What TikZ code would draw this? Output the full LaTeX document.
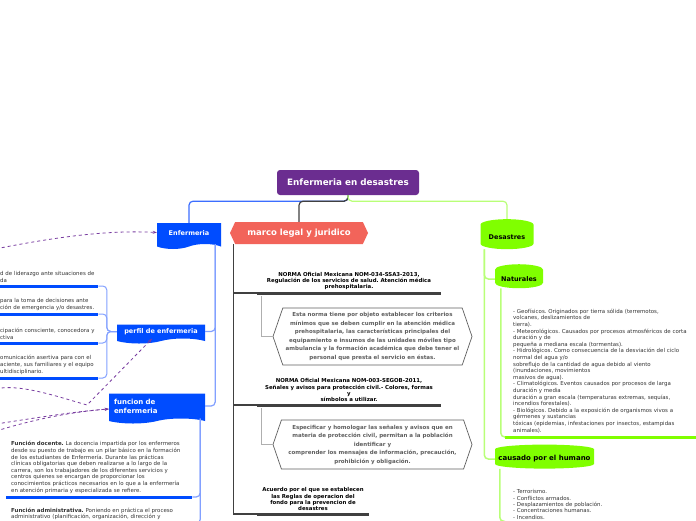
\documentclass[tikz,border=0pt]{standalone}
\usepackage{fontspec}
\setmainfont{DejaVu Sans}
\usetikzlibrary{shapes.geometric,shapes.symbols,arrows.meta,positioning,calc}
\definecolor{mapviolet}{RGB}{107,45,144}
\definecolor{enfblue}{RGB}{0,76,255}
\definecolor{enftop}{RGB}{60,110,255}
\definecolor{enfline}{RGB}{130,160,255}
\definecolor{legalred}{RGB}{242,100,90}
\definecolor{legaldark}{RGB}{64,64,64}
\definecolor{legalgrey}{RGB}{95,95,95}
\definecolor{legalthin}{RGB}{175,175,175}
\definecolor{desgreen}{RGB}{128,255,0}
\definecolor{desline}{RGB}{185,255,120}
\definecolor{reldash}{RGB}{120,60,160}
\definecolor{bodygrey}{RGB}{51,51,51}
\frenchspacing

\begin{document}
\begin{tikzpicture}[x=1pt,y=-1pt,
  rootbox/.style={fill=mapviolet, rounded corners=3pt, text=white, inner sep=0pt, minimum width=142pt, minimum height=25pt, font=\bfseries\fontsize{8.8}{10}\selectfont},
  enfbox/.style={tape, tape bend top=none, tape bend height=5pt, fill=enfblue, text=white, inner sep=0pt, font=\bfseries\fontsize{6.5}{8.4}\selectfont},
  legalbox/.style={signal, signal to=west and east, signal pointer angle=130, fill=legalred, text=white, inner sep=0pt, minimum width=138pt, minimum height=22pt, font=\bfseries\fontsize{8.5}{10}\selectfont},
  desbox/.style={cylinder, shape border rotate=90, aspect=0.3, fill=desgreen, inner sep=0pt, font=\bfseries\fontsize{6.5}{8}\selectfont},
  normtext/.style={text=black, align=center, inner xsep=0pt, inner ysep=3pt, font=\bfseries\fontsize{5.4}{6.3}\selectfont},
  hexnote/.style={signal, signal to=west and east, signal pointer angle=142, draw=legalgrey, line width=0.7pt, text=legalgrey, align=center, inner sep=0pt, minimum width=199pt, font=\bfseries\fontsize{5.5}{8.5}\selectfont},
  bodytext/.style={text=bodygrey, align=left, inner xsep=0pt, inner ysep=3.5pt, font=\fontsize{5.45}{6.6}\selectfont},
  blueunder/.style={draw=enfblue, line width=3pt},
  greyunder/.style={draw=legaldark, line width=3pt},
  greenunder/.style={draw=desgreen, line width=3pt},
  rel/.style={draw=reldash, dashed, line width=0.8pt, -{Stealth[length=4pt,width=3pt]}}
]
\useasboundingbox (0,0) rectangle (696,520);
\fill[white] (0,0) rectangle (696,520);
\clip (0,0) rectangle (696,520);

% central topic
\node[rootbox] (root) at (348,182.5) {Enfermeria en desastres};

% main branches
\node[enfbox, minimum width=64pt, minimum height=26pt] (enf) at (189,233.5) {Enfermeria};
\node[legalbox] (marco) at (299,233) {marco legal y juridico};
\node[desbox, minimum width=53pt, minimum height=30pt] (des) at (507,237) {Desastres};

\draw[enftop, line width=1.2pt, rounded corners=4pt] (root.south) -- ++(0,6) -| (enf.north);
\draw[legaldark, line width=1.2pt, rounded corners=4pt] (root.south) -- ++(0,6) -| (marco.north);
\draw[desline, line width=1.2pt, rounded corners=4pt] (root.south) -- ++(0,6) -| (des.north);

% Enfermeria
\node[enfbox, minimum width=88pt, minimum height=19pt] (perfil) at (161,331.5) {perfil de enfermeria};
\node[enfbox, minimum width=96pt, minimum height=30pt, text width=86pt, align=left, font=\bfseries\fontsize{7}{9}\selectfont] (funcion) at (157,406) {funcion de\\enfermeria};
\draw[enfline, line width=1.2pt, rounded corners=4pt] ([xshift=-6pt]enf.south east) |- (perfil.east);
\draw[enfline, line width=1.2pt, rounded corners=4pt] ([xshift=-6pt]enf.south east) |- (funcion.east);

\node[bodytext, text width=98pt, anchor=south west] (p1) at (0,286) {d de liderazgo ante situaciones de\\da};
\node[bodytext, text width=98pt, anchor=south west] (p2) at (0,314) {para la toma de decisiones ante\\ción de emergencia y/o desastres.};
\node[bodytext, text width=98pt, anchor=south west] (p3) at (0,343) {cipación consciente, conocedora y\\ctiva};
\node[bodytext, text width=98pt, anchor=south west] (p4) at (0,378) {omunicación asertiva para con el\\aciente, sus familiares y el equipo\\ultidisciplinario.};
\foreach \p in {p1,p2,p3,p4} {
  \draw[blueunder] (\p.south west) -- (\p.south east);
  \draw[enfline, line width=1pt, rounded corners=4pt] (perfil.west) -- ++(-10,0) |- (\p.south east);
}

\node[bodytext, inner xsep=5pt, text width=176pt, anchor=south west] (f1) at (6,497) {\textbf{Función docente.} La docencia impartida por los enfermeros\\desde su puesto de trabajo es un pilar básico en la formación\\de los estudiantes de Enfermería. Durante las prácticas\\clínicas obligatorias que deben realizarse a lo largo de la\\carrera, son los trabajadores de los diferentes servicios y\\centros quienes se encargan de proporcionar los\\conocimientos prácticos necesarios en lo que a la enfermería\\en atención primaria y especializada se refiere.};
\node[bodytext, inner xsep=5pt, text width=176pt, anchor=north west] (f2) at (6,504) {\textbf{Función administrativa.} Poniendo en práctica el proceso\\administrativo (planificación, organización, dirección y};
\draw[blueunder] (f1.south west) -- (f1.south east);
\draw[blueunder] (f2.south west) -- (f2.south east);
\draw[enfline, line width=1.2pt, rounded corners=4pt] ([xshift=-5pt]funcion.south east) |- (f1.south east);
\draw[enfline, line width=1.2pt, rounded corners=4pt] ([xshift=-5pt]funcion.south east) |- (f2.south east);

% marco legal
\coordinate (trunk) at ($(marco.west |- marco.south)+(4,0)$);
\node[normtext, text width=184pt, anchor=south] (n1) at (349,293) {NORMA Oficial Mexicana NOM-034-SSA3-2013,\\Regulación de los servicios de salud. Atención médica\\prehospitalaria.};
\node[normtext, text width=184pt, anchor=south] (n2) at (349,405) {NORMA Oficial Mexicana NOM-003-SEGOB-2011,\\Señales y avisos para protección civil.- Colores, formas\\y\\símbolos a utilizar.};
\node[normtext, text width=112pt, anchor=south] (n3) at (313,514) {Acuerdo por el que se establecen\\las Reglas de operacion del\\fondo para la prevencion de\\desastres};
\node[hexnote, minimum height=57pt] (h1) at (372.5,336.5) {Esta norma tiene por objeto establecer los criterios\\mínimos que se deben cumplir en la atención médica\\prehospitalaria, las características principales del\\equipamiento e insumos de las unidades móviles tipo\\ambulancia y la formación académica que debe tener el\\personal que presta el servicio en éstas.};
\node[hexnote, minimum height=49pt] (h2) at (372.5,444.5) {Especificar y homologar las señales y avisos que en\\materia de protección civil, permitan a la población\\identificar y\\comprender los mensajes de información, precaución,\\prohibición y obligación.};
\foreach \n in {n1,n2,n3} {
  \draw[greyunder] (\n.south west) -- (\n.south east);
  \draw[legaldark, line width=1.2pt] (trunk) |- (\n.south west);
}
\draw[legalthin, line width=1pt] ($(n1.south west)+(5,3)$) |- (h1.west);
\draw[legalthin, line width=1pt] ($(n2.south west)+(5,3)$) |- (h2.west);

% Desastres
\node[desbox, minimum width=48pt, minimum height=24pt] (nat) at (519,279) {Naturales};
\node[desbox, aspect=0.1, minimum width=99pt, minimum height=24pt, font=\bfseries\fontsize{7}{8}\selectfont] (hum) at (544.5,459) {causado por el humano};
\draw[desline, line width=1.5pt, rounded corners=4pt] ($(des.west |- des.south)+(4,0)$) |- (nat.west);
\draw[desline, line width=1.5pt, rounded corners=4pt] ($(des.west |- des.south)+(4,0)$) |- (hum.west);

\node[bodytext, inner xsep=8pt, inner ysep=4pt, text width=176pt, anchor=south west] (nt) at (505,437) {- Geofísicos. Originados por tierra sólida (terremotos,\\volcanes, deslizamientos de\\tierra).\\- Meteorológicos. Causados por procesos atmosféricos de corta\\duración y de\\pequeña a mediana escala (tormentas).\\- Hidrológicos. Como consecuencia de la desviación del ciclo\\normal del agua y/o\\sobreflujo de la cantidad de agua debido al viento\\(inundaciones, movimientos\\masivos de agua).\\- Climatológicos. Eventos causados por procesos de larga\\duración y media\\duración a gran escala (temperaturas extremas, sequías,\\incendios forestales).\\- Biológicos. Debido a la exposición de organismos vivos a\\gérmenes y sustancias\\tóxicas (epidemias, infestaciones por insectos, estampidas\\animales).};
\draw[greenunder] (nt.south west) -- (nt.south east);
\draw[desline, line width=1.5pt, rounded corners=4pt] ($(nat.west |- nat.south)+(6,0)$) |- (nt.south west);

\node[bodytext, inner xsep=8pt, inner ysep=2pt, text width=176pt, anchor=north west, font=\fontsize{5.45}{6.3}\selectfont] (ht) at (505,487.5) {- Terrorismo.\\- Conflictos armados.\\- Desplazamientos de población.\\- Concentraciones humanas.\\- Incendios.};
\draw[desline, line width=1.5pt, rounded corners=4pt] ($(hum.west |- hum.south)+(5,0)$) |- (ht.south west);

% relations
\coordinate (rel a) at (-10,250);
\coordinate (rel b) at (-15,394);
\coordinate (rel c) at (-10,425);
\coordinate (rel d) at (-10,433);
\draw[rel] (rel a) .. controls (60,236) and (110,230) .. ([yshift=1pt]enf.west);
\draw[rel] (rel b) .. controls (5,378) and (55,396) .. (87,405) -- ([xshift=-9pt]perfil.south);
\draw[rel] (rel c) .. controls (40,417) and (80,411) .. ([yshift=-3pt]funcion.west);
\draw[rel] (rel d) .. controls (30,420) and (70,412) .. ([yshift=-3pt]funcion.west);
\end{tikzpicture}
\end{document}
